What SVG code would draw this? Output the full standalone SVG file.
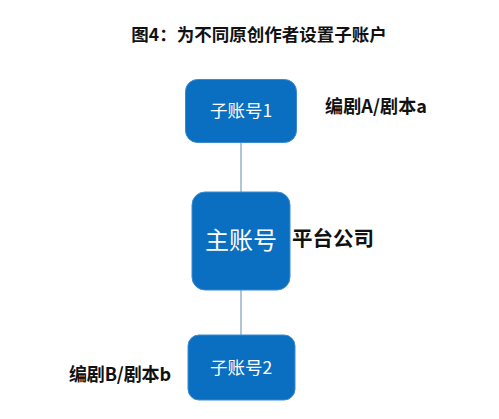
<svg xmlns="http://www.w3.org/2000/svg" width="499" height="419" viewBox="0 0 499 419">
<style>
.box{fill:#0a6fc0;stroke:#3b8ad0;stroke-width:1}
.wt{fill:#ffffff;font-family:"Noto Sans CJK SC","Noto Sans",sans-serif;text-anchor:middle}
.bt{fill:#111111;font-family:"Noto Sans CJK SC","Noto Sans",sans-serif;font-weight:bold}
.conn{stroke:#9aafcc;stroke-width:1.5;fill:none}
</style>
<rect width="499" height="419" fill="#ffffff"/>
<text class="bt" x="259" y="41" font-size="17.5" text-anchor="middle">图4：为不同原创作者设置子账户</text>
<g id="connectors">
<line class="conn" x1="241" y1="143" x2="241" y2="192"/>
<line class="conn" x1="241" y1="290" x2="241" y2="335"/>
</g>
<g id="sub1">
<rect class="box" x="185.5" y="79.5" width="111" height="63" rx="12"/>
<text class="wt" x="241" y="117" font-size="17.5">子账号1</text>
</g>
<g id="main">
<rect class="box" x="192" y="192" width="98" height="98" rx="13"/>
<text class="wt" x="241" y="249" font-size="24">主账号</text>
</g>
<g id="sub2">
<rect class="box" x="188" y="335" width="107" height="65" rx="11"/>
<text class="wt" x="241" y="374" font-size="17.5">子账号2</text>
</g>
<text class="bt" x="325" y="113" font-size="18" textLength="102" lengthAdjust="spacing">编剧A/剧本a</text>
<text class="bt" x="292" y="246" font-size="20.5">平台公司</text>
<text class="bt" x="69" y="381" font-size="18" textLength="102" lengthAdjust="spacing">编剧B/剧本b</text>
</svg>
